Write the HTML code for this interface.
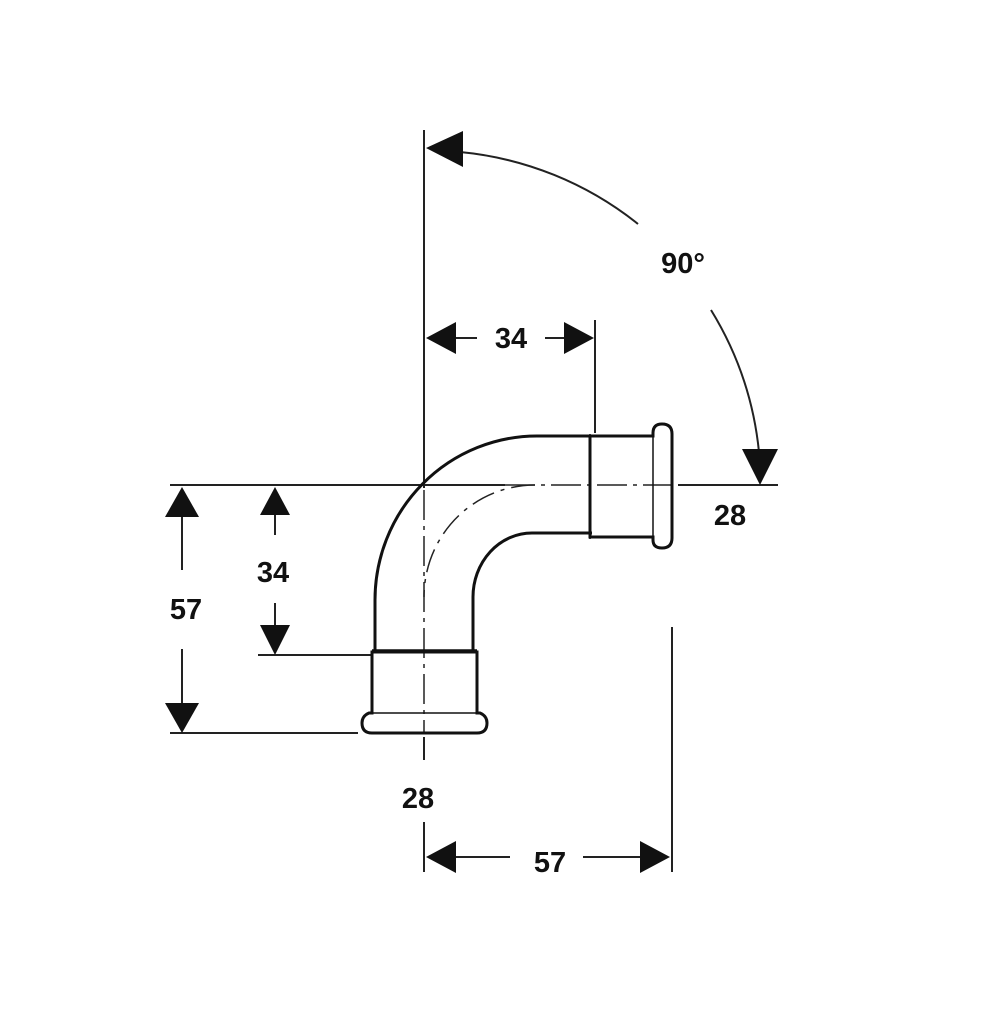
<!DOCTYPE html>
<html><head><style>
html,body{margin:0;padding:0;background:#fff;}
svg{display:block;}
text{font-family:"Liberation Sans",sans-serif;font-weight:bold;font-size:29px;fill:#111;text-anchor:middle;}
</style></head><body>
<svg width="1008" height="1024" viewBox="0 0 1008 1024">
<g stroke="#222" stroke-width="2" fill="none">
  <line x1="424" y1="130" x2="424" y2="488"/>
  <line x1="170" y1="485" x2="505" y2="485"/>
  <line x1="505" y1="485" x2="678" y2="485" stroke-dasharray="30,6,4,6" stroke-width="1.5"/>
  <line x1="678" y1="485" x2="778" y2="485"/>
  <line x1="170" y1="733" x2="358" y2="733"/>
  <line x1="258" y1="655" x2="372" y2="655"/>
  <line x1="595" y1="320" x2="595" y2="433"/>
  <line x1="672" y1="627" x2="672" y2="872"/>
  <line x1="424" y1="737" x2="424" y2="760"/>
  <line x1="424" y1="822" x2="424" y2="872"/>
  <line x1="182" y1="515" x2="182" y2="570"/>
  <line x1="182" y1="649" x2="182" y2="705"/>
  <line x1="275" y1="513" x2="275" y2="535"/>
  <line x1="275" y1="603" x2="275" y2="627"/>
  <line x1="454" y1="338" x2="477" y2="338"/>
  <line x1="545" y1="338" x2="565" y2="338"/>
  <line x1="454" y1="857" x2="510" y2="857"/>
  <line x1="583" y1="857" x2="644" y2="857"/>
  <path d="M460 152 A335 335 0 0 1 638 224"/>
  <path d="M711 310 A335 335 0 0 1 759 452"/>
  <line x1="424" y1="490" x2="424" y2="733" stroke-dasharray="30,6,4,6" stroke-width="1.5"/>
  <path d="M535 485 A111 112 0 0 0 424 597" stroke-dasharray="24,7,4,7" stroke-width="1.5"/>
</g>
<g fill="#111">
  <polygon points="426,148 463,131 463,167"/>
  <polygon points="760,485 742,449 778,449"/>
  <polygon points="182,487 165,517 199,517"/>
  <polygon points="182,733 165,703 199,703"/>
  <polygon points="275,487 260,515 290,515"/>
  <polygon points="275,655 260,625 290,625"/>
  <polygon points="426,338 456,322 456,354"/>
  <polygon points="594,338 564,322 564,354"/>
  <polygon points="426,857 456,841 456,873"/>
  <polygon points="670,857 640,841 640,873"/>
</g>
<g stroke="#111" stroke-width="3" fill="none">
  <path d="M592 436 L537 436 A162 164 0 0 0 375 600 L375 652"/>
  <path d="M592 533 L532 533 A59 64 0 0 0 473 597 L473 652"/>
  <path d="M590 436 L653 436 L653 433 Q653 424 662 424 Q672 424 672 434 L672 538 Q672 548 662 548 Q653 548 653 540 L653 537 L590 537 Z"/>
  <line x1="590" y1="434" x2="590" y2="539" stroke-width="1.5"/>
  <line x1="653" y1="436" x2="653" y2="537" stroke-width="1.5"/>
  <path d="M372 652 L477 652 L477 713 L480 713 Q487 716 487 723 Q487 733 477 733 L372 733 Q362 733 362 723 Q362 716 369 713 L372 713 Z"/>
  <line x1="372" y1="713" x2="477" y2="713" stroke-width="1.5"/>
  <line x1="372" y1="650" x2="477" y2="650" stroke-width="1.5"/>
</g>
<text x="683" y="273">90°</text>
<text x="511" y="348">34</text>
<text x="730" y="525">28</text>
<text x="273" y="582">34</text>
<text x="186" y="619">57</text>
<text x="418" y="808">28</text>
<text x="550" y="872">57</text>
</svg>
</body></html>
